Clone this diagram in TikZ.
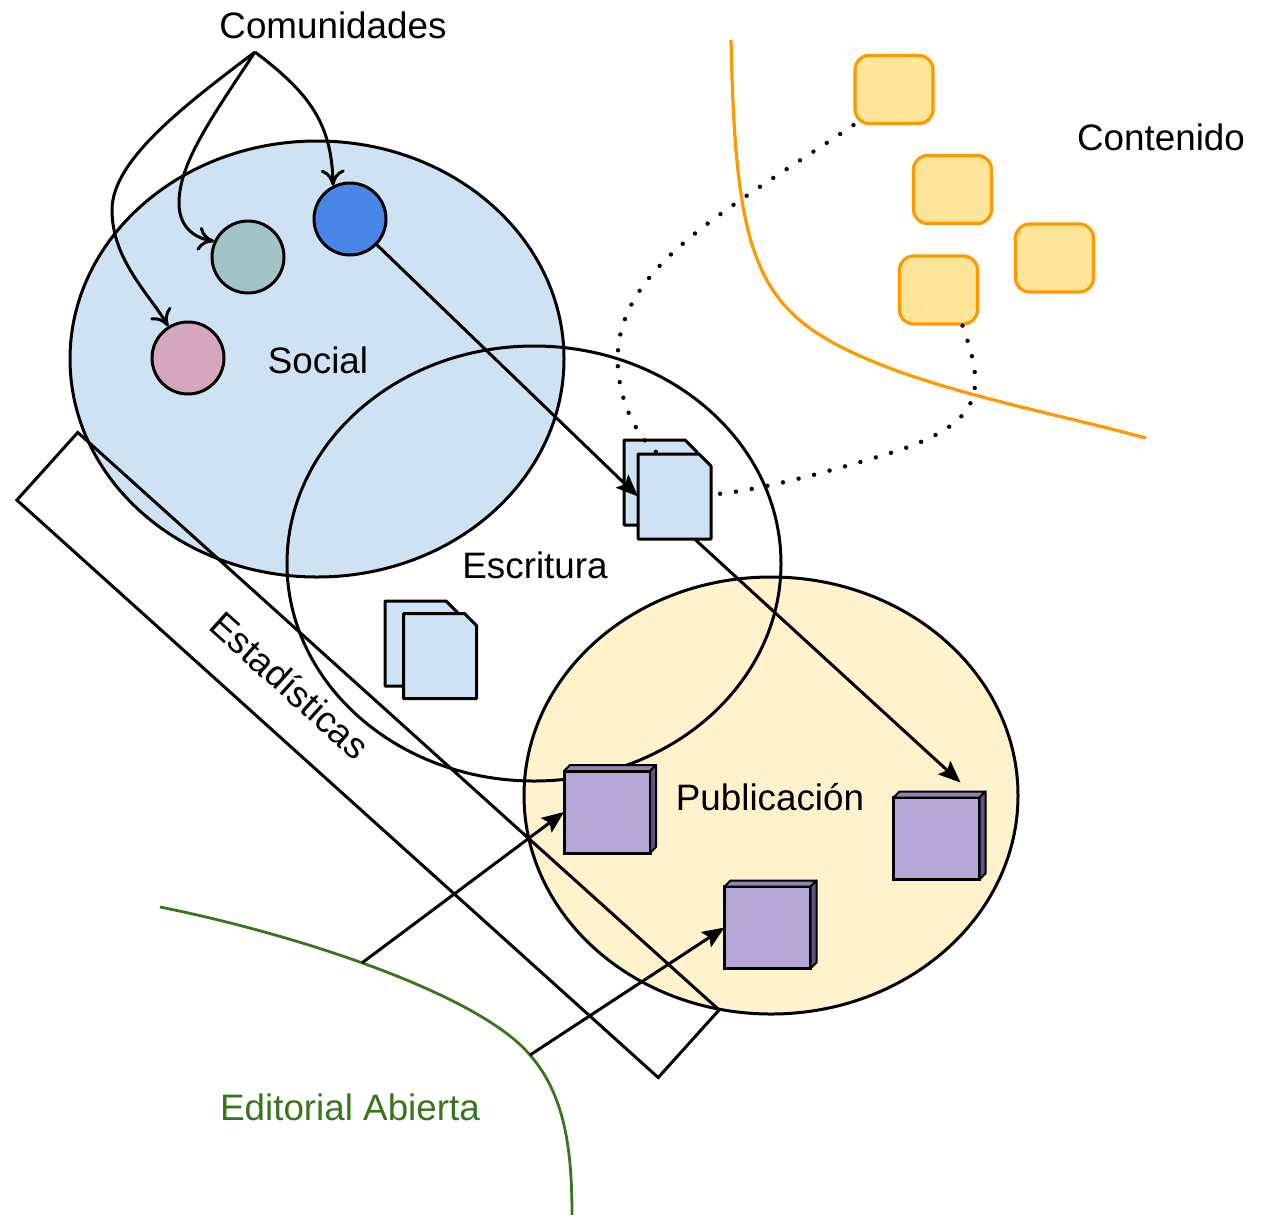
\documentclass[tikz,border=0pt]{standalone}
\usepackage{fontspec}
\setmainfont{Liberation Sans}
\usetikzlibrary{shapes.geometric,arrows.meta,calc}
\definecolor{socialfill}{HTML}{CFE2F3}
\definecolor{pubfill}{HTML}{FFF2CC}
\definecolor{cblue}{HTML}{4A86E8}
\definecolor{cteal}{HTML}{A2C4C9}
\definecolor{cpink}{HTML}{D5A6BD}
\definecolor{orangeln}{HTML}{FF9900}
\definecolor{orangefill}{HTML}{FFE599}
\definecolor{edgreen}{HTML}{38761D}
\definecolor{purp}{HTML}{B4A7D6}
\definecolor{purptop}{HTML}{9085B0}
\definecolor{purpside}{HTML}{5E5480}
\newcommand\boxdepth[1]{%
  \filldraw[fill=purptop,draw=black,line width=1pt,line join=round] (#1.north west) -- ([shift={(3pt,3pt)}]#1.north west) -- ([shift={(3pt,3pt)}]#1.north east) -- (#1.north east) -- cycle;
  \filldraw[fill=purpside,draw=black,line width=1pt,line join=round] (#1.north east) -- ([shift={(3pt,3pt)}]#1.north east) -- ([shift={(3pt,3pt)}]#1.south east) -- (#1.south east) -- cycle;}
\newcommand\docshape[1]{%
  \filldraw[fill=socialfill,draw=black,line width=1.5pt,line join=round] (#1.south west) -- (#1.north west) -- ([xshift=-6pt]#1.north east) -- ([yshift=-6pt]#1.north east) -- (#1.south east) -- cycle;}
\begin{document}
\begin{tikzpicture}[x=0.5pt,y=-0.5pt,
  lbl/.style={font=\fontsize{18.4}{22}\selectfont, inner sep=0pt},
  blob/.style={ellipse, draw, line width=1.5pt, inner sep=0pt, outer sep=0pt, minimum width=247pt},
  comm/.style={circle, draw, line width=1.5pt, minimum size=36pt, inner sep=0pt},
  conn/.style={line width=1.5pt},
  fa/.style={conn,-{Stealth[length=11pt,width=9pt,inset=2pt]}},
  oa/.style={conn,-{Computer Modern Rightarrow[length=8pt,width=12pt]}},
  docnode/.style={rectangle, minimum width=36.5pt, minimum height=42.5pt, inner sep=0pt, outer sep=0pt},
  pbox/.style={rectangle, draw, line width=1.5pt, fill=purp, minimum width=43pt, minimum height=41pt, inner sep=0pt, outer sep=0pt},
  csq/.style={rectangle, rounded corners=7pt, draw=orangeln, fill=orangefill, line width=1.6pt, minimum width=39pt, minimum height=34pt, inner sep=0pt},
  dots/.style={line width=2.2pt, line cap=round, dash pattern=on 0pt off 8pt},
]
\useasboundingbox (0,0) rectangle (1262,1215);

% big regions
\node[blob, fill=socialfill, minimum height=218pt] (social) at (317,359) {};
\node[blob, fill=pubfill, minimum height=218.5pt] (pub) at (771,795.5) {};
\node[blob, minimum height=217.5pt] (escr) at (534,563.5) {};

% estadisticas band
\node[draw, line width=1.5pt, rotate=-42, minimum width=431.5pt, minimum height=45.5pt, inner sep=0pt] (stats) at (368,755) {};
\node[lbl, rotate=-42] (statslbl) at (290,685) {Estadísticas};

% boundary curves
\draw[orangeln, line width=1.6pt] (731,40) .. controls (736,280) and (760,320) .. (900,372) .. controls (980,400) and (1060,415) .. (1146,438);
\draw[edgreen, line width=1.4pt] (160,907) .. controls (300,935) and (480,995) .. coordinate[pos=0.46] (g1) (530,1055) coordinate (g2) .. controls (565,1095) and (572,1150) .. (572,1215);

% labels
\node[lbl] (comlbl) at (333,25) {Comunidades};
\node[lbl] (soclbl) at (318,360) {Social};
\node[lbl] (esclbl) at (535,565) {Escritura};
\node[lbl] (publbl) at (770,797) {Publicación};
\node[lbl] (conlbl) at (1161,137) {Contenido};
\node[lbl, text=edgreen] (edlbl) at (350,1107) {Editorial Abierta};

% content squares
\node[csq] (sq1) at (894,89.5) {};
\node[csq] (sq2) at (952.5,189.5) {};
\node[csq] (sq3) at (1054.5,258) {};
\node[csq] (sq4) at (938.5,290) {};

% documents
\node[docnode] (docAb) at (660.5,482.5) {};
\node[docnode] (docAf) at (674.5,496.5) {};
\node[docnode] (docBb) at (421.5,643.5) {};
\node[docnode] (docBf) at (440,656) {};
\docshape{docAb}
\docshape{docAf}
\docshape{docBb}
\docshape{docBf}

% purple boxes
\node[pbox] (p1) at (607,812) {};
\node[pbox] (p2) at (767.5,927.5) {};
\node[pbox] (p3) at (936.5,838.5) {};
\boxdepth{p1}
\boxdepth{p2}
\boxdepth{p3}

% community circles
\node[comm, fill=cblue] (blue) at (350,219) {};
\node[comm, fill=cteal] (teal) at (248,257) {};
\node[comm, fill=cpink] (pink) at (188,358) {};

% community arrows
\coordinate (c0) at (255,52);
\draw[oa] (c0) .. controls (305,90) and (332,120) .. (blue.117);
\draw[oa] (c0) .. controls (210,120) and (178,165) .. (179,205) .. controls (180,228) and (195,238) .. (teal.155);
\draw[oa] (c0) .. controls (185,105) and (112,160) .. (112,210) .. controls (112,260) and (150,295) .. (pink.122);

% flow arrows
\draw[fa] (blue) -- (docAf.west);
\draw[fa] ([xshift=10pt]docAf.south) -- ([xshift=12pt,yshift=7.5pt]p3.north);
\draw[fa] (g1) -- (p1.west);
\draw[fa] (g2) -- (p2.west);

% dotted links
\draw[dots] (sq1.south west) .. controls (720,215) and (610,270) .. (618,370) .. controls (622,410) and (640,440) .. ([xshift=-8pt]docAf.north);
\draw[dots] ([xshift=12pt]sq4.south) .. controls (985,390) and (985,420) .. (900,450) .. controls (820,475) and (750,492) .. ([yshift=1pt]docAf.east);
\end{tikzpicture}
\end{document}
